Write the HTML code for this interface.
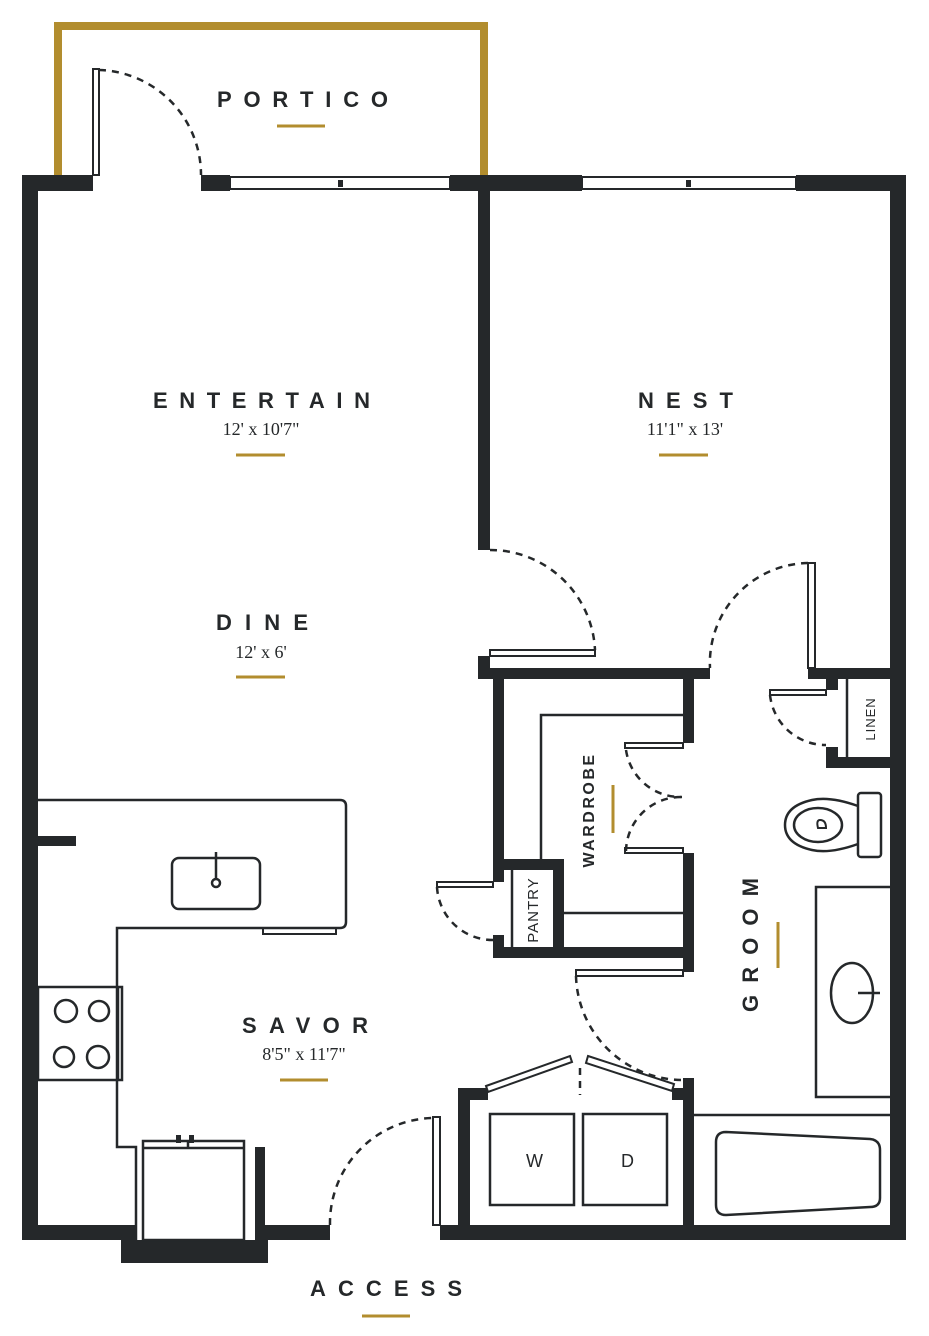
<!DOCTYPE html>
<html><head><meta charset="utf-8"><style>
html,body{margin:0;padding:0;background:#fff;}
svg{display:block}
.t{font-family:"Liberation Sans",sans-serif;font-weight:bold;font-size:22px;fill:#25282a}
.d{font-family:"Liberation Serif",serif;font-size:18px;fill:#25282a;text-anchor:middle}
.s{font-family:"Liberation Sans",sans-serif;font-size:15px;letter-spacing:1px;fill:#25282a;text-anchor:middle}
</style></head><body>
<svg width="929" height="1336" viewBox="0 0 929 1336" xmlns="http://www.w3.org/2000/svg">
<g fill="none" stroke="#b28d2e" stroke-width="8">
<path d="M58 175 V26 H484 V175"/>
</g>
<g fill="#25282a">
<rect x="22" y="175" width="16" height="1065"/>
<rect x="22" y="175" width="71" height="16"/>
<rect x="201" y="175" width="29" height="16"/>
<rect x="450" y="175" width="132" height="16"/>
<rect x="796" y="175" width="110" height="16"/>
<rect x="890" y="175" width="16" height="1065"/>
<rect x="440" y="1225" width="466" height="15"/>
<rect x="22" y="1225" width="114" height="15"/>
<rect x="121" y="1240" width="147" height="23"/>
<rect x="255" y="1147" width="10" height="93"/>
<rect x="263" y="1225" width="67" height="15"/>
<rect x="478" y="190" width="12" height="360"/>
<rect x="478" y="656" width="12" height="22"/>
<rect x="478" y="668" width="232" height="11"/>
<rect x="493" y="668" width="11" height="214"/>
<rect x="683" y="668" width="11" height="75"/>
<rect x="683" y="853" width="11" height="119"/>
<rect x="493" y="947" width="201" height="11"/>
<rect x="493" y="935" width="11" height="23"/>
<rect x="553" y="859" width="11" height="99"/>
<rect x="504" y="859" width="60" height="11"/>
<rect x="808" y="668" width="82" height="11"/>
<rect x="826" y="668" width="12" height="22"/>
<rect x="826" y="747" width="12" height="21"/>
<rect x="826" y="757" width="64" height="11"/>
<rect x="38" y="836" width="38" height="10"/>
<rect x="458" y="1088" width="12" height="140"/>
<rect x="458" y="1088" width="30" height="12"/>
<rect x="683" y="1078" width="11" height="150"/>
<rect x="672" y="1088" width="22" height="12"/>
<rect x="176" y="1135" width="5" height="8"/>
<rect x="189" y="1135" width="5" height="8"/>
</g>
<g fill="#fff" stroke="#25282a" stroke-width="2">
<rect x="230" y="177" width="220" height="12"/>
<rect x="582" y="177" width="214" height="12"/>
<rect x="93" y="69" width="6" height="106"/>
<rect x="490" y="650" width="105" height="6"/>
<rect x="808" y="563" width="7" height="105"/>
<rect x="770" y="690" width="56" height="5"/>
<rect x="625" y="743" width="58" height="5"/>
<rect x="625" y="848" width="58" height="5"/>
<rect x="437" y="882" width="56" height="5"/>
<rect x="576" y="970" width="107" height="6"/>
<rect x="433" y="1117" width="7" height="108"/>
<rect x="263" y="928" width="73" height="6"/>
<polygon points="486,1086 570,1056 572,1062 488,1092"/>
<polygon points="588,1056 674,1084 672,1091 586,1063"/>
</g>
<rect x="338" y="180" width="5" height="7" fill="#25282a"/>
<rect x="686" y="180" width="5" height="7" fill="#25282a"/>
<g fill="none" stroke="#25282a" stroke-width="2.5" stroke-dasharray="7,6">
<path d="M99 70 A105 105 0 0 1 201 175"/>
<path d="M490 550 A105 105 0 0 1 595 650"/>
<path d="M808 563 A100 100 0 0 0 710 668"/>
<path d="M770 695 A56 56 0 0 0 826 745"/>
<path d="M626 750 A55 55 0 0 0 682 797"/>
<path d="M626 851 A55 55 0 0 1 682 797"/>
<path d="M437 887 A56 56 0 0 0 493 940"/>
<path d="M576 976 A107 107 0 0 0 683 1080"/>
<path d="M330 1225 A105 105 0 0 1 433 1118"/>
<path d="M580 1068 V1095"/>
</g>
<g fill="none" stroke="#25282a" stroke-width="2.5">
<path d="M38 800 H340 Q346 800 346 806 V922 Q346 928 340 928 H117 V1147 H136 V1240"/>
<rect x="172" y="858" width="88" height="51" rx="7"/>
<line x1="216" y1="852" x2="216" y2="878"/>
<circle cx="216" cy="883" r="4"/>
<rect x="38" y="987" width="84" height="93"/>
<line x1="118" y1="987" x2="118" y2="1080"/>
<circle cx="66" cy="1011" r="11"/><circle cx="99" cy="1011" r="10"/>
<circle cx="64" cy="1057" r="10"/><circle cx="98" cy="1057" r="11"/>
<rect x="143" y="1141" width="101" height="99"/>
<line x1="143" y1="1148" x2="244" y2="1148"/>
<line x1="188" y1="1141" x2="188" y2="1148"/>
<path d="M541 859 V715 H683"/>
<line x1="564" y1="913" x2="683" y2="913"/>
<line x1="512" y1="870" x2="512" y2="947"/>
<line x1="847" y1="679" x2="847" y2="757"/>
<rect x="858" y="793" width="23" height="64" rx="3"/>
<path d="M858 806 Q830 796 812 800 Q785 806 785 825 Q785 844 812 850 Q830 854 858 844"/>
<ellipse cx="818" cy="825" rx="24" ry="17"/>
<path d="M820 820 Q826 820 826 828 H818 Q816 820 820 820Z" stroke-width="2"/>
<path d="M890 887 H816 V1097 H890"/>
<ellipse cx="852" cy="993" rx="21" ry="30"/>
<line x1="858" y1="993" x2="880" y2="993"/>
<line x1="694" y1="1115" x2="890" y2="1115"/>
<path d="M726 1132 L870 1139 Q880 1140 880 1150 V1198 Q880 1207 870 1207 L726 1215 Q716 1215 716 1205 V1142 Q716 1132 726 1132Z"/>
<rect x="490" y="1114" width="84" height="91"/>
<rect x="583" y="1114" width="84" height="91"/>
</g>
<text class="s" x="535" y="1167" style="font-size:18px">W</text>
<text class="s" x="628" y="1167" style="font-size:18px">D</text>
<text class="s" transform="translate(538,910) rotate(-90)">PANTRY</text>
<text class="s" transform="translate(875,719) rotate(-90)" style="font-size:13px">LINEN</text>
<text class="t" x="217" y="107" textLength="171" lengthAdjust="spacing">PORTICO</text>
<text class="t" x="153" y="408" textLength="217" lengthAdjust="spacing">ENTERTAIN</text>
<text class="d" x="261" y="435">12' x 10'7"</text>
<text class="t" x="638" y="408" textLength="95" lengthAdjust="spacing">NEST</text>
<text class="d" x="685" y="435">11'1" x 13'</text>
<text class="t" x="216" y="630" textLength="92" lengthAdjust="spacing">DINE</text>
<text class="d" x="261" y="658">12' x 6'</text>
<text class="t" x="242" y="1033" textLength="126" lengthAdjust="spacing">SAVOR</text>
<text class="d" x="304" y="1060">8'5" x 11'7"</text>
<text class="t" x="310" y="1296" textLength="152" lengthAdjust="spacing">ACCESS</text>
<text class="t" transform="translate(758,1012) rotate(-90)" textLength="134" lengthAdjust="spacing">GROOM</text>
<text class="s" transform="translate(594,810) rotate(-90)" style="font-size:16px;letter-spacing:2.5px;font-weight:bold">WARDROBE</text>
<g stroke="#b28d2e" stroke-width="3">
<line x1="277" y1="126" x2="325" y2="126"/>
<line x1="236" y1="455" x2="285" y2="455"/>
<line x1="659" y1="455" x2="708" y2="455"/>
<line x1="236" y1="677" x2="285" y2="677"/>
<line x1="280" y1="1080" x2="328" y2="1080"/>
<line x1="362" y1="1316" x2="410" y2="1316"/>
<line x1="778" y1="922" x2="778" y2="968"/>
<line x1="613" y1="785" x2="613" y2="833"/>
</g>
</svg>
</body></html>
